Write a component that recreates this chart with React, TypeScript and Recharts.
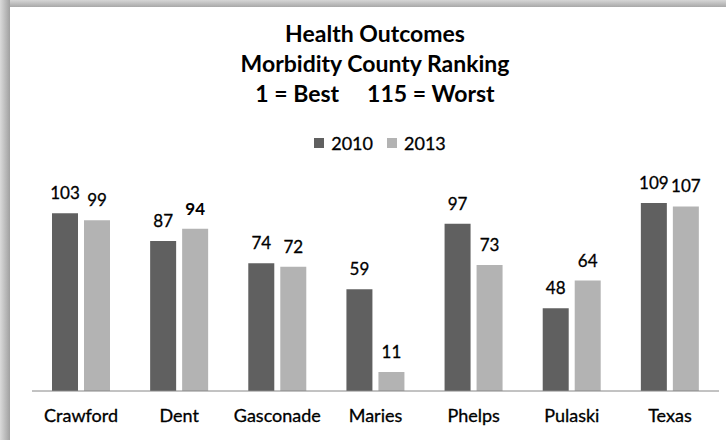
import React from 'react'
import { BarChart, Bar, XAxis, YAxis, LabelList } from 'recharts'

const counties = ['Crawford', 'Dent', 'Gasconade', 'Maries', 'Phelps', 'Pulaski', 'Texas']
const rank2010 = [103, 87, 74, 59, 97, 48, 109]
const rank2013 = [99, 94, 72, 11, 73, 64, 107]
const titleLines = ['Health Outcomes', 'Morbidity County Ranking', '1 = Best     115 = Worst']

const DARK = '#606060'
const LIGHT = '#b3b3b3'
const FONT = 'Lato, "Open Sans", sans-serif'

// 原图里 Dent 2013 的数值是加粗的
const boldLabels = new Set(['y2013-1'])

const makeLabel = (key: string) => (props: any) => {
  const { x, y, width, value, index } = props
  const bold = boldLabels.has(`${key}-${index}`)
  return (
    <text
      x={x + width / 2}
      y={y - 14}
      textAnchor="middle"
      fontSize={17}
      fontFamily={FONT}
      fontWeight={bold ? 700 : 400}
      stroke={bold ? 'none' : '#000'}
      strokeWidth={0.3}
      fill="#000"
    >
      {value}
    </text>
  )
}

export default function App() {
  React.useEffect(() => {
    document.documentElement.style.overflow = 'hidden'
    document.body.style.margin = '0'
    document.body.style.overflow = 'hidden'
  }, [])

  const data = counties.map((c, i) => ({ county: c, y2010: rank2010[i], y2013: rank2013[i] }))

  return (
    <div
      style={{
        position: 'fixed',
        left: 0,
        top: 0,
        width: 726,
        height: 440,
        background: '#fff',
        overflow: 'hidden',
        fontFamily: FONT,
      }}
    >
      <div
        style={{
          position: 'absolute',
          left: 75,
          top: 18,
          width: 600,
          textAlign: 'center',
          fontWeight: 700,
          fontSize: 23,
          lineHeight: '30px',
          color: '#000',
          whiteSpace: 'pre',
        }}
      >
        {titleLines.map((t) => (
          <div key={t}>{t}</div>
        ))}
      </div>

      <div
        style={{
          position: 'absolute',
          left: 80,
          top: 132,
          width: 600,
          display: 'flex',
          justifyContent: 'center',
          alignItems: 'center',
          fontSize: 18,
          color: '#000',
          WebkitTextStroke: '0.3px #000',
        }}
      >
        {[
          ['2010', DARK],
          ['2013', LIGHT],
        ].map(([name, color]) => (
          <div key={name} style={{ display: 'flex', alignItems: 'center', margin: '0 7px' }}>
            <span style={{ width: 10, height: 10, background: color, marginRight: 7 }} />
            <span>{name}</span>
          </div>
        ))}
      </div>

      <div style={{ position: 'absolute', left: 0, top: 0, width: 726, height: 440 }}>
        <BarChart
          width={726}
          height={440}
          data={data}
          margin={{ top: 184, right: 7, bottom: 19, left: 32 }}
          barSize={26}
          barGap={6}
        >
          <XAxis
            dataKey="county"
            axisLine={{ stroke: '#868686', strokeWidth: 1 }}
            tickLine={false}
            tickMargin={12}
            tick={{ fill: '#000', fontSize: 18, fontFamily: FONT, stroke: '#000', strokeWidth: 0.3 }}
            interval={0}
          />
          <YAxis hide domain={[0, 120]} />
          <Bar dataKey="y2010" fill={DARK} isAnimationActive={false}>
            <LabelList dataKey="y2010" content={makeLabel('y2010')} />
          </Bar>
          <Bar dataKey="y2013" fill={LIGHT} isAnimationActive={false}>
            <LabelList dataKey="y2013" content={makeLabel('y2013')} />
          </Bar>
        </BarChart>
      </div>

      {/* 阴影边框（上、左） */}
      <div
        style={{
          position: 'absolute',
          left: 720,
          top: 7,
          width: 6,
          height: 433,
          zIndex: 4,
          background: '#fff',
        }}
      />
      <div
        style={{
          position: 'absolute',
          left: 0,
          top: 0,
          width: 726,
          height: 7,
          zIndex: 5,
          background: 'linear-gradient(to bottom, #d6d6d6, #a8a8a8)',
        }}
      />
      <div
        style={{
          position: 'absolute',
          left: 0,
          top: 0,
          width: 10,
          height: 440,
          zIndex: 6,
          background: 'linear-gradient(to right, #dadada, #a0a0a0)',
        }}
      />
    </div>
  )
}
